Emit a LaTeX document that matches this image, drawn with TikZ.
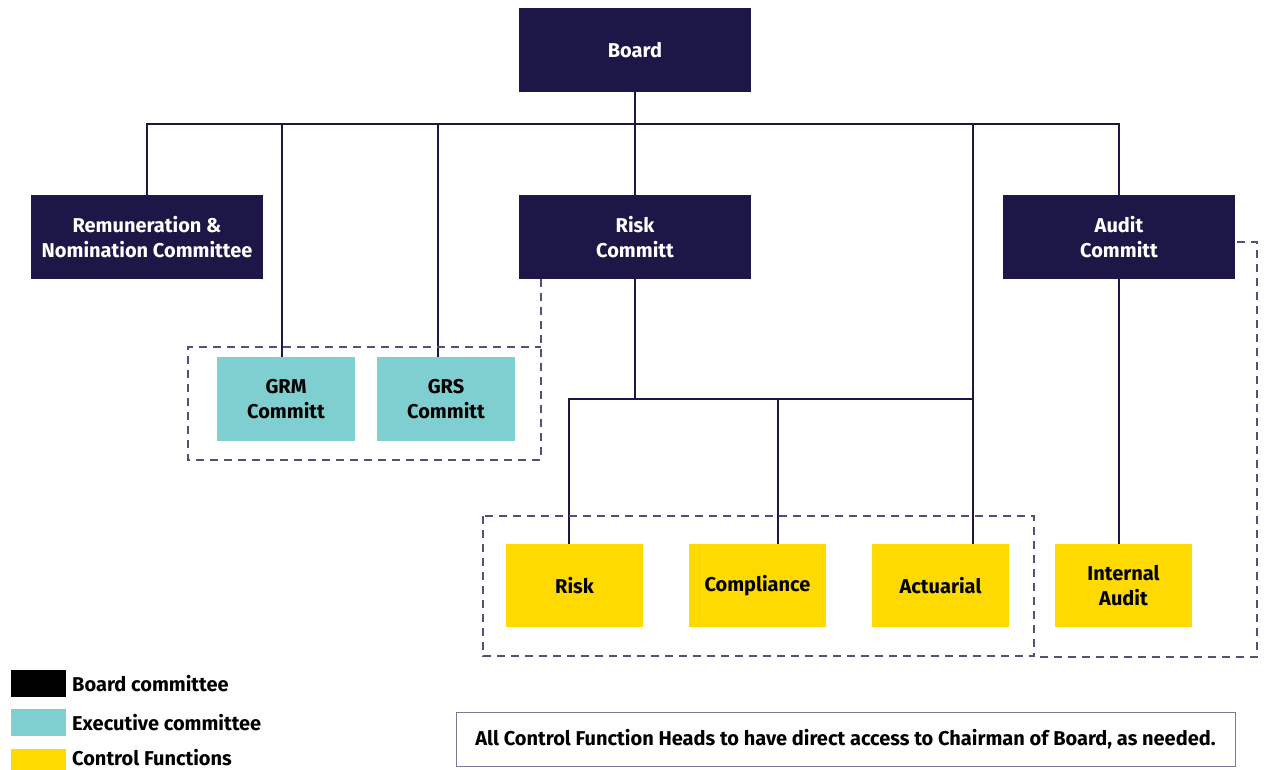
\documentclass[tikz,border=0pt]{standalone}
\usepackage{fontspec}
\setmainfont{Fira Sans}
\definecolor{navy}{HTML}{1D1747}
\definecolor{teal}{HTML}{7FCFD1}
\definecolor{gold}{HTML}{FFDA00}
\definecolor{dashc}{HTML}{55507A}
\definecolor{notec}{HTML}{7C7898}
\begin{document}
\begin{tikzpicture}[x=1pt,y=-1pt,
  every node/.style={font=\bfseries\fontsize{20}{25}\selectfont, align=center, inner sep=0pt},
  boardbox/.style={fill=navy, text=white, minimum width=232pt, minimum height=84pt},
  execbox/.style={fill=teal, text=black, minimum width=138pt, minimum height=84pt},
  ctrlbox/.style={fill=gold, text=black, minimum width=137pt, minimum height=83pt},
  link/.style={draw=navy, line width=1.3pt},
  group/.style={draw=dashc, line width=1.2pt, dash pattern=on 8pt off 6pt},
  legendbox/.style={minimum width=55pt, minimum height=27pt},
  legendtext/.style={anchor=west, text=black}]
\useasboundingbox (0,0) rectangle (1267,769);

% board committees
\node[boardbox] (board) at (635,50) {Board};
\node[boardbox] (remun) at (147,237) {Remuneration \&\\Nomination Committee};
\node[boardbox] (riskc) at (635,237) {Risk\\Committ};
\node[boardbox] (audit) at (1119,237) {Audit\\Committ};

% executive committees
\node[execbox] (grm) at (286,399) {GRM\\Committ};
\node[execbox] (grs) at (446,399) {GRS\\Committ};

% control functions
\node[ctrlbox] (risk) at (574.5,585.5) {Risk};
\node[ctrlbox] (comp) at (757.5,585.5) {Compliance};
\node[ctrlbox] (act) at (940.5,585.5) {Actuarial};
\node[ctrlbox] (ia) at (1123.5,585.5) {Internal\\Audit};

% reporting lines from the board
\coordinate (bus) at (635,124);
\draw[link] (board.south) -- (riskc.north);
\draw[link] (remun.north) |- (bus) -| (audit.north);
\draw[link] ([xshift=-4pt]grm.north) -- ([xshift=-4pt]grm.north |- bus);
\draw[link] ([xshift=-8pt]grs.north) -- ([xshift=-8pt]grs.north |- bus);
\draw[link] ([xshift=32.5pt]act.north) -- ([xshift=32.5pt]act.north |- bus);

% reporting lines below the risk committee
\coordinate (sub) at (635,399);
\draw[link] (riskc.south) -- (sub);
\draw[link] ([xshift=-5.5pt]risk.north) |- ([xshift=32.5pt]act.north |- sub);
\draw[link] ([xshift=20.5pt]comp.north) -- ([xshift=20.5pt]comp.north |- sub);
\draw[link] ([xshift=-4.5pt]ia.north) -- ([xshift=-4.5pt]ia.north |- audit.south);

% dashed groupings
\draw[group] ([xshift=-94pt]riskc.south) -- (541,460) -- (188,460) -- (188,347) -- (541,347);
\draw[group] (483,516) rectangle (1034,656);
\draw[group] ([xshift=2pt,yshift=-5pt]audit.east) -- (1257,242) -- (1257,657) -- (1034,657);

% legend
\node[legendbox, fill=black] (lg1) at (38.5,683.5) {};
\node[legendtext] (lt1) at (72,683.5) {Board committee};
\node[legendbox, fill=teal] (lg2) at (38.5,722.5) {};
\node[legendtext] (lt2) at (72,722.5) {Executive committee};
\node[legendbox, fill=gold] (lg3) at (38.5,762.5) {};
\node[legendtext] (lt3) at (72,757.5) {Control Functions};

% note
\node[draw=notec, line width=1pt, minimum width=779pt, minimum height=54pt,
      font=\bfseries\fontsize{20}{24}\selectfont] (note) at (845.5,739)
  {All Control Function Heads to have direct access to Chairman of Board, as needed.};
\end{tikzpicture}
\end{document}
